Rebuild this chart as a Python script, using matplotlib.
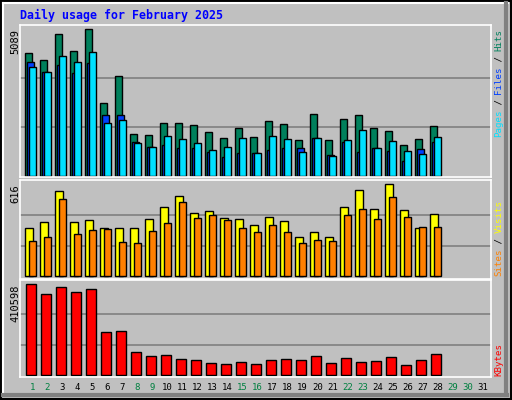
import matplotlib
matplotlib.use("Agg")
import matplotlib.pyplot as plt
from matplotlib.patches import Rectangle

W, H = 512, 400
days = list(range(1, 32))
ndata = 28
weekend = [1, 2, 8, 9, 15, 16, 22, 23, 29, 30]

hits = [4258, 4016, 4927, 4327, 5089, 2527, 3462, 1454, 1419, 1835, 1835, 1766, 1523, 1316,
        1662, 1350, 1904, 1800, 1246, 2146, 1246, 1973, 2112, 1662, 1558, 1073, 1281, 1731]
files = [3947, 3600, 3854, 3566, 3912, 2112, 2112, 1177, 1004, 1073, 969, 969, 831, 658,
         796, 796, 900, 969, 969, 1316, 727, 1177, 831, 969, 865, 519, 935, 1177]
pages = [3773, 3600, 4154, 3947, 4293, 1835, 1939, 1142, 1004, 1385, 1281, 1142, 900, 1004,
         1316, 796, 1385, 1281, 831, 1316, 692, 1246, 1593, 969, 1212, 865, 762, 1350]
visits = [321, 362, 569, 362, 375, 321, 321, 321, 382, 462, 536, 422, 435, 388,
          382, 341, 395, 368, 261, 295, 261, 462, 576, 449, 616, 442, 321, 415]
sites = [234, 261, 516, 281, 308, 315, 228, 221, 301, 355, 496, 388, 408, 375,
         321, 295, 341, 295, 221, 241, 234, 408, 449, 382, 529, 395, 328, 328]
kbytes = [410598, 365000, 397000, 374000, 388000, 194000, 198000, 104000, 86000, 90000,
          72000, 68000, 54000, 50000, 59000, 50000, 68000, 72000, 68000, 86000, 54000,
          77000, 59000, 63000, 81000, 45000, 68000, 95000]

C_HITS, C_FILES, C_PAGES = "#00805c", "#0040ff", "#00e0ff"
C_VISITS, C_SITES, C_KB = "#ffff00", "#ff8000", "#ff0000"
mono = "DejaVu Sans Mono"

fig = plt.figure(figsize=(W / 100, H / 100), dpi=100)
fig.patch.set_facecolor("#c0c0c0")

def frac(x0, y0, x1, y1):
    # pixel box (top-down) -> figure fraction
    return [x0 / W, 1 - y1 / H, (x1 - x0) / W, (y1 - y0) / H]

base = [25.3 + 15 * (d - 1) for d in days[:ndata]]

def panel(y0, y1, ylim, vmax):
    ax = fig.add_axes(frac(20, y0, 491, y1))
    ax.set_facecolor("#c0c0c0")
    ax.set_xlim(20, 491)
    ax.set_ylim(*ylim)
    for g in (vmax / 3, 2 * vmax / 3):
        ax.axhline(g, color="#808080", lw=1.2, zorder=0)
    for s in ax.spines.values():
        s.set_color("white")
        s.set_linewidth(1.2)
    ax.set_xticks([])
    ax.set_yticks([])
    return ax

kw = dict(align="edge", edgecolor="black", linewidth=1)

ax1 = panel(25, 177, (-24, 5089 + 149), 5089)
ax1.bar(base, hits, width=7, color=C_HITS, **kw)
ax1.bar([b + 2 for b in base], files, width=7, color=C_FILES, **kw)
ax1.bar([b + 4 for b in base], pages, width=7, color=C_PAGES, **kw)

ax2 = panel(180, 279, (-18, 616 + 29), 616)
ax2.bar(base, visits, width=8, color=C_VISITS, **kw)
ax2.bar([b + 4 for b in base], sites, width=7, color=C_SITES, **kw)

ax3 = panel(280, 377, (-7700, 410598 + 16700), 410598)
ax3.bar([b + 1 for b in base], kbytes, width=10, color=C_KB, **kw)

def ft(x, y, s, **k):
    fig.text(x / W, 1 - y / H, s, family=mono, **k)

ft(20, 15, "Daily usage for February 2025", color="#0000ff", fontsize=8.4,
   weight="bold", va="center")
ft(15, 29, "5089", rotation=90, fontsize=7.5, ha="center", va="top")
ft(15, 184, "616", rotation=90, fontsize=7.5, ha="center", va="top")
ft(15, 284, "410598", rotation=90, fontsize=7.5, ha="center", va="top")

def vlabel(parts, ybottom, step=5.35):
    off = 0
    for s, c in parts:
        ft(499, ybottom - off * step, s, color=c, rotation=90, fontsize=6.6,
           ha="center", va="bottom")
        off += len(s)

vlabel([("Pages", C_PAGES), (" / ", "black"), ("Files", C_FILES), (" / ", "black"),
        ("Hits", C_HITS)], 137)
vlabel([("Sites", C_SITES), (" / ", "black"), ("Visits", C_VISITS)], 276)
vlabel([("KBytes", C_KB)], 376)

for d in days:
    ft(25.3 + 15 * (d - 1) + 7, 388, str(d), fontsize=6.5, ha="center", va="center",
       color="#008040" if d in weekend else "black")

# outer bevel frame
ov = fig.add_axes([0, 0, 1, 1], zorder=-1)
ov.set_xlim(0, W)
ov.set_ylim(H, 0)
ov.axis("off")
ov.add_patch(Rectangle((1, 1), W - 2, H - 2, fill=False, edgecolor="black", lw=1.5))
ov.plot([3, W - 4], [3, 3], color="white", lw=1.5)
ov.plot([3, 3], [3, H - 4], color="white", lw=1.5)
ov.plot([W - 6, W - 6], [3, H - 5], color="#808080", lw=3)
ov.plot([3, W - 5], [H - 5, H - 5], color="#808080", lw=3)

fig.savefig("out.png", dpi=100, facecolor=fig.get_facecolor())
